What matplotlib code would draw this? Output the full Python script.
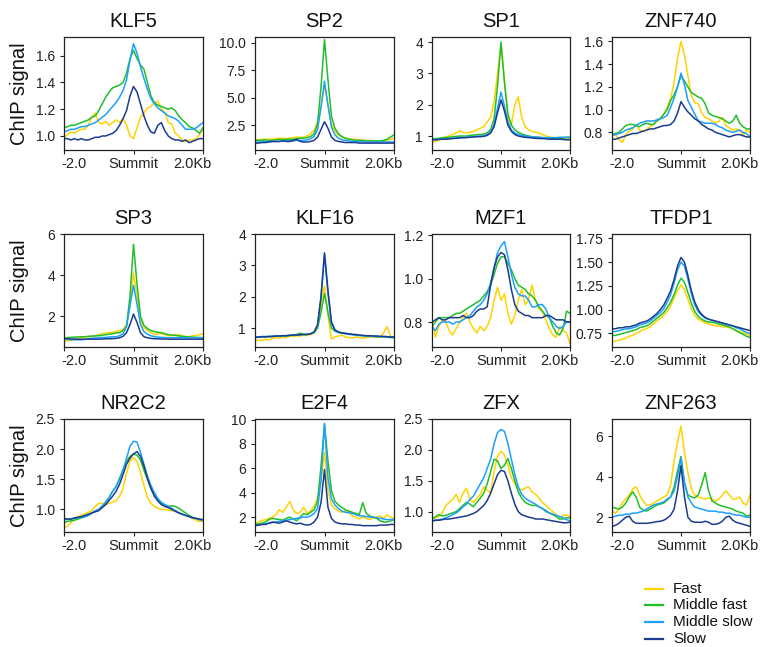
import matplotlib
matplotlib.use('Agg')
import matplotlib.pyplot as plt
from matplotlib.lines import Line2D
from matplotlib.transforms import ScaledTranslation

plt.rcParams['font.family'] = ['Liberation Sans', 'DejaVu Sans']

# ---------------- data ----------------
X = [-2.0, -1.9, -1.8, -1.7, -1.6, -1.5, -1.4, -1.3, -1.2, -1.1, -1.0,
     -0.9, -0.8, -0.7, -0.6, -0.5, -0.4, -0.3, -0.2, -0.1, 0.0,
     0.1, 0.2, 0.3, 0.4, 0.5, 0.6, 0.7, 0.8, 0.9, 1.0,
     1.1, 1.2, 1.3, 1.4, 1.5, 1.6, 1.7, 1.8, 1.9, 2.0]
X_TICKS = [-2.0, 0.0, 2.0]
X_LABELS = ['-2.0', 'Summit', '2.0Kb']
GROUPS = ['Fast', 'Middle fast', 'Middle slow', 'Slow']
TFS = ['KLF5', 'SP2', 'SP1', 'ZNF740', 'SP3', 'KLF16', 'MZF1', 'TFDP1',
       'NR2C2', 'E2F4', 'ZFX', 'ZNF263']

klf5_fast = [0.99,1.01,1.03,1.02,1.04,1.05,1.05,1.08,1.14,1.17,1.10,1.09,1.11,1.08,1.10,1.12,1.10,1.13,1.08,1.00,0.98,
             1.06,1.14,1.17,1.21,1.22,1.25,1.26,1.20,1.18,1.10,1.09,1.02,1.00,0.97,0.96,0.97,0.97,0.98,1.01,1.06]
klf5_mfast = [1.06,1.07,1.08,1.08,1.09,1.10,1.11,1.12,1.14,1.15,1.19,1.24,1.29,1.33,1.36,1.37,1.38,1.40,1.47,1.58,1.64,
              1.58,1.53,1.50,1.40,1.30,1.25,1.23,1.22,1.21,1.20,1.21,1.19,1.15,1.12,1.10,1.07,1.06,1.04,1.02,1.06]
klf5_mslow = [1.03,1.04,1.05,1.05,1.06,1.07,1.07,1.08,1.09,1.10,1.12,1.14,1.16,1.19,1.22,1.25,1.29,1.34,1.42,1.57,1.69,
              1.62,1.52,1.43,1.35,1.28,1.24,1.21,1.19,1.17,1.15,1.14,1.13,1.11,1.08,1.05,1.05,1.05,1.06,1.08,1.10]
klf5_slow = [0.98,0.98,0.97,0.98,0.97,0.98,0.97,0.97,0.98,0.99,0.99,1.00,1.00,1.01,1.02,1.04,1.08,1.13,1.19,1.30,1.37,
             1.33,1.24,1.15,1.08,1.03,1.02,1.08,1.10,1.04,1.00,0.98,0.97,0.97,0.96,0.97,0.95,0.96,0.97,0.98,0.98]

sp2_fast = [1.15,1.15,1.2,1.2,1.2,1.2,1.25,1.3,1.3,1.25,1.3,1.35,1.4,1.35,1.4,1.5,1.7,2.0,2.8,4.2,6.1,
            4.3,2.6,1.9,1.6,1.4,1.3,1.25,1.2,1.2,1.15,1.1,1.1,1.1,1.05,1.05,1.05,1.05,1.1,1.2,1.3]
sp2_mfast = [1.1,1.1,1.1,1.15,1.1,1.1,1.15,1.2,1.15,1.2,1.2,1.2,1.25,1.3,1.3,1.35,1.45,1.7,2.6,6.0,10.3,
             6.6,3.3,2.2,1.7,1.45,1.3,1.2,1.15,1.1,1.1,1.1,1.05,1.05,1.05,1.05,1.05,1.1,1.2,1.4,1.6]
sp2_mslow = [0.95,0.95,0.95,1.0,1.0,1.0,1.0,1.0,1.05,1.05,1.05,1.05,1.1,1.1,1.1,1.15,1.25,1.45,2.1,4.1,6.5,
             4.3,2.3,1.6,1.3,1.15,1.1,1.05,1.0,1.0,1.0,0.95,0.95,0.95,0.95,0.95,0.95,0.95,0.95,0.95,0.95]
sp2_slow = [0.85,0.85,0.9,0.9,0.95,1.0,1.0,1.0,1.05,1.0,1.0,1.1,1.2,1.0,0.95,0.95,1.0,1.1,1.4,2.1,2.8,
            2.2,1.4,1.1,1.0,0.95,0.9,0.9,0.9,0.9,0.85,0.85,0.85,0.85,0.85,0.85,0.85,0.85,0.85,0.85,0.85]

sp1_fast = [0.8,0.82,0.88,0.92,0.98,1.0,1.05,1.1,1.16,1.12,1.1,1.12,1.15,1.2,1.25,1.3,1.45,1.6,2.1,3.0,3.9,
            2.8,1.6,1.35,2.0,2.25,1.6,1.3,1.2,1.15,1.12,1.1,1.05,1.0,0.97,0.95,0.95,0.95,0.95,0.95,0.95]
sp1_mfast = [0.9,0.92,0.93,0.95,0.95,0.96,0.98,0.99,1.0,1.0,1.0,1.02,1.03,1.04,1.05,1.06,1.1,1.2,1.55,2.6,4.0,
             2.7,1.7,1.35,1.2,1.12,1.07,1.03,1.0,0.98,0.97,0.96,0.95,0.94,0.93,0.93,0.92,0.92,0.91,0.9,0.9]
sp1_mslow = [0.88,0.89,0.9,0.9,0.91,0.92,0.93,0.94,0.95,0.95,0.96,0.97,0.98,0.99,1.0,1.0,1.05,1.12,1.35,1.9,2.4,
             1.95,1.45,1.2,1.1,1.05,1.02,1.0,0.98,0.97,0.96,0.96,0.95,0.95,0.95,0.95,0.95,0.96,0.96,0.97,0.97]
sp1_slow = [0.88,0.88,0.89,0.9,0.9,0.91,0.92,0.93,0.94,0.95,0.95,0.96,0.97,0.98,0.98,0.99,1.02,1.1,1.3,1.75,2.15,
            1.8,1.35,1.15,1.05,1.0,0.98,0.96,0.95,0.94,0.93,0.92,0.92,0.91,0.9,0.9,0.9,0.9,0.89,0.88,0.88]

znf740_fast = [0.77,0.78,0.74,0.71,0.78,0.81,0.83,0.87,0.82,0.81,0.82,0.85,0.87,0.9,0.92,0.96,1.02,1.1,1.24,1.45,1.6,
               1.48,1.3,1.12,1.06,1.05,0.97,0.93,0.92,0.9,0.88,0.9,0.93,0.86,0.84,0.82,0.83,0.82,0.78,0.82,0.8]
znf740_mfast = [0.78,0.79,0.8,0.83,0.86,0.87,0.87,0.86,0.85,0.87,0.88,0.87,0.87,0.9,0.92,0.96,1.0,1.08,1.13,1.2,1.3,
                1.25,1.2,1.15,1.13,1.11,1.1,1.05,0.97,0.95,0.94,0.93,0.92,0.9,0.88,0.9,0.95,0.88,0.85,0.83,0.83]
znf740_mslow = [0.78,0.78,0.79,0.8,0.82,0.83,0.84,0.86,0.88,0.89,0.9,0.9,0.9,0.91,0.92,0.93,0.95,1.02,1.1,1.2,1.32,
                1.22,1.08,1.02,0.96,0.9,0.89,0.88,0.88,0.88,0.87,0.85,0.84,0.82,0.81,0.8,0.81,0.82,0.8,0.79,0.76]
znf740_slow = [0.74,0.74,0.75,0.76,0.77,0.78,0.79,0.79,0.8,0.81,0.82,0.83,0.83,0.84,0.85,0.86,0.86,0.87,0.9,0.97,1.07,
               1.02,0.98,0.95,0.92,0.9,0.87,0.85,0.83,0.82,0.8,0.79,0.78,0.77,0.76,0.77,0.78,0.78,0.77,0.76,0.76]

sp3_fast = [0.8,0.8,0.83,0.86,0.9,0.95,0.98,1.0,1.0,1.05,1.1,1.15,1.18,1.2,1.22,1.25,1.3,1.35,1.6,2.6,4.1,
            3.0,1.8,1.45,1.3,1.2,1.1,1.15,1.15,1.1,1.05,1.05,1.1,1.1,1.05,1.0,1.0,1.05,1.05,1.1,1.15]
sp3_mfast = [0.95,0.96,0.97,0.98,0.99,1.0,1.0,1.02,1.03,1.04,1.05,1.07,1.1,1.12,1.15,1.18,1.2,1.3,1.5,3.0,5.5,
             3.6,2.0,1.55,1.4,1.3,1.25,1.22,1.2,1.15,1.1,1.08,1.06,1.04,1.02,1.0,0.99,0.98,0.97,0.96,0.95]
sp3_mslow = [0.9,0.88,0.85,0.85,0.85,0.85,0.87,0.9,0.92,0.94,0.95,0.96,0.97,0.98,1.0,1.0,1.05,1.15,1.5,2.5,3.5,
             2.6,1.6,1.25,1.12,1.05,1.0,0.98,0.97,0.96,0.95,0.95,0.95,0.95,0.95,0.95,0.95,0.95,0.95,0.95,0.95]
sp3_slow = [0.9,0.9,0.89,0.89,0.88,0.88,0.88,0.88,0.88,0.88,0.88,0.89,0.9,0.9,0.91,0.92,0.95,1.02,1.2,1.6,2.1,
            1.7,1.2,1.0,0.95,0.92,0.9,0.9,0.89,0.89,0.88,0.88,0.88,0.88,0.88,0.88,0.88,0.88,0.88,0.88,0.88]

klf16_fast = [0.6,0.62,0.6,0.65,0.62,0.68,0.7,0.68,0.72,0.7,0.75,0.73,0.76,0.75,0.78,0.76,0.8,0.84,1.05,1.7,2.35,
              1.4,0.65,0.72,0.75,0.78,0.72,0.7,0.68,0.72,0.7,0.68,0.7,0.72,0.75,0.7,0.72,0.85,1.05,0.75,0.7]
klf16_mfast = [0.7,0.71,0.72,0.72,0.73,0.73,0.74,0.75,0.75,0.76,0.77,0.78,0.8,0.84,0.8,0.8,0.82,0.86,1.0,1.5,2.1,
               1.5,1.0,0.9,0.87,0.85,0.84,0.82,0.8,0.78,0.77,0.76,0.75,0.74,0.73,0.73,0.72,0.72,0.71,0.7,0.7]
klf16_mslow = [0.72,0.72,0.73,0.73,0.74,0.74,0.75,0.75,0.76,0.76,0.77,0.78,0.78,0.79,0.8,0.8,0.82,0.87,1.1,2.0,3.35,
               2.1,1.15,0.92,0.86,0.84,0.82,0.8,0.8,0.78,0.77,0.76,0.76,0.75,0.74,0.74,0.73,0.72,0.72,0.71,0.7]
klf16_slow = [0.7,0.72,0.73,0.73,0.73,0.74,0.75,0.75,0.76,0.76,0.77,0.78,0.78,0.79,0.8,0.8,0.82,0.88,1.1,2.0,3.4,
              2.2,1.2,0.95,0.88,0.85,0.83,0.82,0.8,0.8,0.78,0.77,0.76,0.76,0.75,0.75,0.74,0.74,0.73,0.72,0.72]

mzf1_fast = [0.8,0.73,0.78,0.81,0.8,0.76,0.74,0.77,0.8,0.82,0.84,0.8,0.77,0.75,0.78,0.76,0.78,0.82,0.9,0.96,0.9,
             0.93,0.84,0.79,0.83,0.9,0.95,0.88,0.9,0.97,0.9,0.86,0.85,0.81,0.77,0.74,0.73,0.78,0.76,0.75,0.7]
mzf1_mfast = [0.78,0.8,0.82,0.82,0.82,0.82,0.83,0.84,0.84,0.85,0.86,0.87,0.88,0.89,0.9,0.92,0.94,0.97,1.02,1.07,1.1,
              1.1,1.07,1.04,1.0,0.97,0.96,0.95,0.93,0.92,0.9,0.87,0.85,0.83,0.82,0.78,0.75,0.74,0.77,0.85,0.84]
mzf1_mslow = [0.78,0.76,0.79,0.8,0.8,0.8,0.79,0.8,0.8,0.81,0.82,0.83,0.85,0.87,0.88,0.9,0.93,0.98,1.05,1.12,1.15,
              1.17,1.1,1.02,0.96,0.93,0.92,0.92,0.9,0.87,0.87,0.88,0.88,0.86,0.82,0.8,0.78,0.77,0.78,0.8,0.8]
mzf1_slow = [0.8,0.81,0.82,0.81,0.81,0.82,0.82,0.82,0.82,0.83,0.82,0.82,0.83,0.85,0.86,0.86,0.87,0.97,1.05,1.1,1.12,
             1.11,1.04,0.95,0.88,0.85,0.84,0.83,0.83,0.82,0.82,0.82,0.82,0.83,0.83,0.82,0.81,0.81,0.81,0.8,0.8]

tfdp1_fast = [0.66,0.67,0.68,0.69,0.7,0.72,0.73,0.75,0.77,0.79,0.8,0.82,0.85,0.88,0.91,0.94,0.98,1.04,1.12,1.2,1.26,
              1.21,1.11,1.01,0.94,0.9,0.88,0.86,0.85,0.84,0.83,0.83,0.82,0.82,0.81,0.8,0.78,0.77,0.76,0.74,0.73]
tfdp1_mfast = [0.73,0.73,0.74,0.75,0.76,0.77,0.78,0.79,0.81,0.82,0.83,0.85,0.88,0.91,0.94,0.97,1.02,1.08,1.16,1.26,1.33,
               1.29,1.18,1.07,0.98,0.93,0.9,0.88,0.87,0.87,0.86,0.85,0.84,0.83,0.82,0.8,0.78,0.76,0.74,0.72,0.71]
tfdp1_mslow = [0.77,0.77,0.78,0.79,0.8,0.8,0.81,0.82,0.84,0.85,0.86,0.88,0.91,0.94,0.97,1.01,1.08,1.16,1.28,1.42,1.5,
               1.46,1.32,1.17,1.05,0.98,0.94,0.91,0.9,0.89,0.88,0.87,0.86,0.85,0.84,0.83,0.81,0.8,0.78,0.76,0.75]
tfdp1_slow = [0.8,0.8,0.81,0.81,0.82,0.82,0.83,0.84,0.86,0.87,0.88,0.9,0.93,0.96,1.0,1.05,1.12,1.2,1.32,1.46,1.55,
              1.5,1.36,1.2,1.08,1.0,0.95,0.92,0.9,0.89,0.88,0.87,0.86,0.85,0.84,0.83,0.82,0.81,0.8,0.79,0.78]

nr2c2_fast = [0.7,0.72,0.78,0.84,0.88,0.9,0.93,0.95,0.98,1.05,1.1,1.1,1.08,1.1,1.12,1.15,1.22,1.35,1.6,1.8,1.86,
              1.8,1.62,1.4,1.2,1.1,1.05,1.02,1.0,1.0,0.99,0.98,0.97,0.95,0.92,0.9,0.88,0.85,0.82,0.8,0.8]
nr2c2_mfast = [0.78,0.8,0.81,0.82,0.84,0.86,0.88,0.9,0.94,0.97,1.0,1.05,1.12,1.2,1.3,1.38,1.52,1.66,1.8,1.88,1.92,
               1.9,1.82,1.65,1.5,1.35,1.24,1.16,1.1,1.07,1.05,1.06,1.05,1.02,0.98,0.94,0.9,0.87,0.85,0.83,0.82]
nr2c2_mslow = [0.83,0.83,0.84,0.85,0.86,0.87,0.88,0.9,0.94,0.98,1.0,1.06,1.12,1.2,1.3,1.38,1.5,1.65,1.85,2.05,2.13,
               2.12,1.95,1.75,1.55,1.4,1.28,1.18,1.12,1.08,1.05,1.02,0.98,0.95,0.92,0.9,0.88,0.86,0.85,0.83,0.82]
nr2c2_slow = [0.85,0.84,0.84,0.86,0.87,0.88,0.9,0.92,0.94,0.96,0.98,1.03,1.08,1.15,1.22,1.3,1.42,1.58,1.75,1.85,1.92,
              1.96,1.88,1.72,1.52,1.35,1.22,1.14,1.08,1.05,1.03,1.0,0.97,0.94,0.92,0.9,0.88,0.86,0.85,0.84,0.83]

e2f4_fast = [1.5,1.6,1.7,1.8,1.9,2.0,2.2,2.6,2.4,2.8,3.3,2.6,2.3,2.4,2.8,2.3,2.5,2.9,3.6,5.0,7.3,
             4.2,3.0,2.7,2.5,2.4,2.5,2.4,2.1,2.0,1.85,2.0,1.9,1.8,1.9,2.0,2.1,1.9,2.2,2.0,1.9]
e2f4_mfast = [1.4,1.45,1.5,1.6,1.8,1.9,1.85,1.8,1.75,1.9,2.0,1.85,1.7,2.0,2.3,2.2,2.4,2.6,3.3,6.2,9.6,
              6.6,4.2,3.3,3.0,2.8,2.6,2.5,2.4,2.3,2.2,3.2,2.3,2.1,2.0,1.9,1.7,1.6,1.6,1.7,1.8]
e2f4_mslow = [1.3,1.35,1.4,1.45,1.5,1.55,1.6,1.65,1.7,1.75,1.8,1.85,1.9,1.95,2.0,2.0,2.1,2.3,2.7,5.0,9.7,
              5.2,3.5,3.0,2.7,2.5,2.4,2.35,2.3,2.2,2.1,2.1,2.05,2.0,2.0,1.95,1.9,1.85,1.8,1.8,1.8]
e2f4_slow = [1.3,1.35,1.4,1.4,1.5,1.6,1.55,1.5,1.6,1.7,1.6,1.5,1.45,1.5,1.4,1.35,1.4,1.6,2.0,3.2,5.9,
             2.8,1.9,1.6,1.5,1.45,1.45,1.4,1.4,1.35,1.35,1.3,1.3,1.3,1.3,1.3,1.35,1.35,1.35,1.4,1.4]

zfx_fast = [0.88,0.9,0.92,0.98,1.1,1.15,1.2,1.28,1.15,1.3,1.38,1.2,1.15,1.22,1.28,1.4,1.35,1.3,1.65,1.9,1.98,
            1.92,1.75,1.55,1.45,1.38,1.35,1.38,1.4,1.32,1.28,1.22,1.15,1.1,1.05,1.0,0.95,0.9,0.94,0.95,0.92]
zfx_mfast = [0.88,0.92,0.95,0.93,0.94,0.96,0.98,1.0,1.05,1.1,1.15,1.12,1.08,1.15,1.22,1.3,1.45,1.65,1.85,1.82,1.7,
             1.75,1.86,1.7,1.5,1.32,1.22,1.15,1.12,1.1,1.1,1.08,1.05,1.0,0.98,0.95,0.92,0.88,0.88,0.9,0.9]
zfx_mslow = [0.85,0.86,0.87,0.88,0.9,0.92,0.95,0.98,1.02,1.08,1.12,1.2,1.25,1.35,1.45,1.55,1.7,1.85,2.1,2.28,2.33,
             2.3,2.1,1.85,1.6,1.4,1.28,1.22,1.18,1.15,1.12,1.08,1.05,1.02,0.98,0.96,0.94,0.92,0.9,0.87,0.85]
zfx_slow = [0.85,0.86,0.86,0.87,0.88,0.88,0.89,0.9,0.91,0.92,0.93,0.95,0.97,1.0,1.05,1.1,1.18,1.3,1.45,1.6,1.67,
            1.65,1.5,1.3,1.12,1.0,0.95,0.93,0.91,0.9,0.88,0.88,0.88,0.87,0.86,0.85,0.84,0.83,0.82,0.82,0.83]

znf263_fast = [2.3,2.2,2.4,2.7,2.9,3.1,3.4,3.5,3.1,2.8,2.6,2.6,2.7,2.8,2.9,3.0,3.1,3.6,4.8,5.7,6.5,
               5.2,4.2,3.4,3.1,3.0,2.95,2.9,2.95,2.9,2.8,2.9,3.1,3.3,3.1,2.9,2.9,3.0,2.7,2.6,3.1]
znf263_mfast = [2.5,2.45,2.4,2.5,2.7,3.0,3.25,3.0,2.5,2.35,2.3,2.4,2.5,2.6,2.65,2.7,2.85,3.0,3.5,4.3,5.0,
                3.7,3.1,3.0,2.95,3.1,3.6,4.2,3.3,2.8,2.7,2.6,2.55,2.5,2.45,2.4,2.3,2.25,2.2,2.05,2.1]
znf263_mslow = [2.0,2.05,2.1,2.1,2.15,2.15,2.2,2.2,2.25,2.3,2.4,2.5,2.6,2.65,2.7,2.75,2.9,3.0,3.3,4.0,4.9,
                3.7,3.0,2.7,2.5,2.45,2.4,2.35,2.3,2.3,2.3,2.25,2.25,2.2,2.2,2.15,2.1,2.1,2.05,2.0,2.0]
znf263_slow = [1.55,1.6,1.7,1.85,2.0,2.05,1.8,1.7,1.7,1.7,1.7,1.72,1.75,1.78,1.8,1.85,1.95,2.1,2.4,3.3,4.55,
               3.0,2.0,1.8,1.75,1.75,1.75,1.8,1.75,1.65,1.65,1.7,1.8,2.0,2.05,1.85,1.75,1.7,1.65,1.6,1.55]

SIGNALS = {
    'KLF5': [klf5_fast, klf5_mfast, klf5_mslow, klf5_slow],
    'SP2': [sp2_fast, sp2_mfast, sp2_mslow, sp2_slow],
    'SP1': [sp1_fast, sp1_mfast, sp1_mslow, sp1_slow],
    'ZNF740': [znf740_fast, znf740_mfast, znf740_mslow, znf740_slow],
    'SP3': [sp3_fast, sp3_mfast, sp3_mslow, sp3_slow],
    'KLF16': [klf16_fast, klf16_mfast, klf16_mslow, klf16_slow],
    'MZF1': [mzf1_fast, mzf1_mfast, mzf1_mslow, mzf1_slow],
    'TFDP1': [tfdp1_fast, tfdp1_mfast, tfdp1_mslow, tfdp1_slow],
    'NR2C2': [nr2c2_fast, nr2c2_mfast, nr2c2_mslow, nr2c2_slow],
    'E2F4': [e2f4_fast, e2f4_mfast, e2f4_mslow, e2f4_slow],
    'ZFX': [zfx_fast, zfx_mfast, zfx_mslow, zfx_slow],
    'ZNF263': [znf263_fast, znf263_mfast, znf263_mslow, znf263_slow],
}

Y_TICKS = {
    'KLF5': ['1.0', '1.2', '1.4', '1.6'],
    'SP2': ['2.5', '5.0', '7.5', '10.0'],
    'SP1': ['1', '2', '3', '4'],
    'ZNF740': ['0.8', '1.0', '1.2', '1.4', '1.6'],
    'SP3': ['2', '4', '6'],
    'KLF16': ['1', '2', '3', '4'],
    'MZF1': ['0.8', '1.0', '1.2'],
    'TFDP1': ['0.75', '1.00', '1.25', '1.50', '1.75'],
    'NR2C2': ['1.0', '1.5', '2.0', '2.5'],
    'E2F4': ['2', '4', '6', '8', '10'],
    'ZFX': ['1.0', '1.5', '2.0', '2.5'],
    'ZNF263': ['2', '4', '6'],
}

# ---------------- layout / style ----------------
COLORS = ['#FFD200', '#1FBF2A', '#1CA0FF', '#1B3C8E']
Y_LIMS = {
    'KLF5': (0.895, 1.74), 'SP2': (0.22, 10.53), 'SP1': (0.555, 4.16),
    'ZNF740': (0.645, 1.638), 'SP3': (0.5, 6.0), 'KLF16': (0.4, 4.0),
    'MZF1': (0.685, 1.205), 'TFDP1': (0.608, 1.796), 'NR2C2': (0.625, 2.5),
    'E2F4': (0.78, 10.05), 'ZFX': (0.67, 2.5), 'ZNF263': (1.27, 6.85),
}
W, H = 772, 647
COLS = [(64, 203), (255, 394), (432, 570), (612, 750)]
ROWS = [(37, 150), (234, 347), (419, 532)]

fig = plt.figure(figsize=(W / 100, H / 100), dpi=100)

for idx, tf in enumerate(TFS):
    r, c = divmod(idx, 4)
    (l, rr), (t, b) = COLS[c], ROWS[r]
    ax = fig.add_axes([l / W, 1 - b / H, (rr - l) / W, (b - t) / H])
    for series, color, name in zip(SIGNALS[tf], COLORS, GROUPS):
        ax.plot(X, series, color=color, lw=1.1, label=name)
    ax.set_xlim(X[0], X[-1])
    ax.set_ylim(*Y_LIMS[tf])
    ax.set_yticks([float(v) for v in Y_TICKS[tf]])
    ax.set_yticklabels(Y_TICKS[tf])
    ax.set_xticks(X_TICKS)
    ax.set_xticklabels(X_LABELS)
    ax.tick_params(axis='x', direction='out', length=3, width=0.8, pad=2,
                   labelsize=10.5, colors='#222222')
    ax.tick_params(axis='y', direction='out', length=3, width=0.8, pad=3.5,
                   labelsize=10, colors='#222222')
    for sp in ax.spines.values():
        sp.set_linewidth(0.9)
        sp.set_color('#222222')
    ax.set_title(tf, fontsize=14.5, pad=7, color='#111111')
    labs = ax.get_xticklabels()
    labs[0].set_transform(labs[0].get_transform() + ScaledTranslation(10.5 / 100, 0, fig.dpi_scale_trans))
    labs[2].set_transform(labs[2].get_transform() + ScaledTranslation(-11 / 100, 0, fig.dpi_scale_trans))

for (t, b) in ROWS:
    fig.text(19.5 / W, 1 - (t + b) / 2 / H, 'ChIP signal', rotation=90,
             ha='center', va='center', fontsize=14.5, color='#111111')

# legend
for i, (name, color) in enumerate(zip(GROUPS, COLORS)):
    yy = 1 - [589, 605, 622, 639][i] / H
    fig.add_artist(Line2D([645 / W, 663 / W], [yy, yy], color=color, lw=1.6,
                          transform=fig.transFigure))
    fig.text(673 / W, yy, name, ha='left', va='center', fontsize=11, color='#111111')

fig.savefig('out.png', dpi=100)
